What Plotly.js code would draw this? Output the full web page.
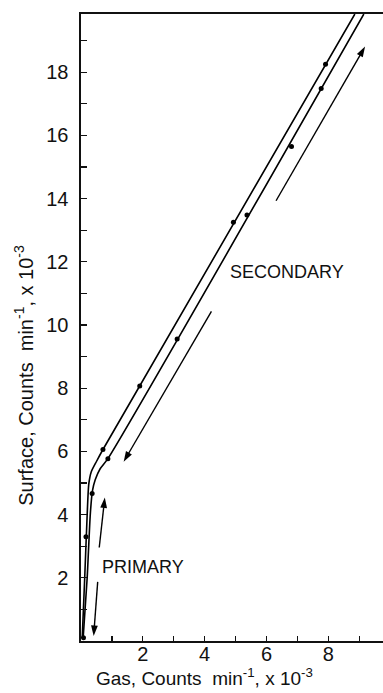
<!DOCTYPE html>
<html>
<head>
<meta charset="utf-8">
<script src="https://cdn.plot.ly/plotly-3.0.1.min.js"></script>
<style>html,body{margin:0;padding:0;background:#fff;}#chart{width:383px;height:693px;}</style>
</head>
<body>
<div id="chart"></div>
<script>
// Curve through upper branch (vertices)
const curveAx = [0.04, 0.12, 0.20, 0.25, 0.33, 0.50, 0.71, 8.86];
const curveAy = [0.10, 2.00, 4.00, 4.95, 5.35, 5.68, 6.06, 19.84];
// Curve through lower branch
const curveBx = [0.07, 0.20, 0.30, 0.37, 0.46, 0.62, 0.87, 9.15];
const curveBy = [0.10, 2.00, 4.00, 4.75, 5.10, 5.45, 5.77, 19.84];
// Measured points
const pointsAx = [0.08, 0.16, 0.71, 1.90, 4.93, 7.91];
const pointsAy = [0.10, 3.30, 6.06, 8.07, 13.25, 18.25];
const pointsBx = [0.36, 0.87, 3.11, 5.37, 6.81, 7.77];
const pointsBy = [4.67, 5.77, 9.56, 13.48, 15.65, 17.48];
// Direction arrows: tail -> head
const arrowTailX = [6.31, 4.22, 0.59, 0.54];
const arrowTailY = [13.93, 10.43, 2.96, 1.87];
const arrowHeadX = [9.19, 1.38, 0.77, 0.41];
const arrowHeadY = [18.81, 5.67, 4.54, 0.16];
// Labels
const labelText = ["SECONDARY", "PRIMARY"];
const labelX = [6.68, 1.99];
const labelY = [11.69, 2.35];
const xTickVals = [2, 4, 6, 8];
const yTickVals = [2, 4, 6, 8, 10, 12, 14, 16, 18];

const FONT = "Liberation Sans, Arial, sans-serif";
const traces = [
  {x: curveAx, y: curveAy, mode: 'lines', line: {color: '#000', width: 1.6, shape: 'spline', smoothing: 0.6}, hoverinfo: 'skip'},
  {x: curveBx, y: curveBy, mode: 'lines', line: {color: '#000', width: 1.6, shape: 'spline', smoothing: 0.6}, hoverinfo: 'skip'},
  {x: pointsAx, y: pointsAy, mode: 'markers', marker: {color: '#000', size: 5}},
  {x: pointsBx, y: pointsBy, mode: 'markers', marker: {color: '#000', size: 5}}
];
for (let i = 0; i < arrowTailX.length; i++) {
  traces.push({x: [arrowTailX[i], arrowHeadX[i]], y: [arrowTailY[i], arrowHeadY[i]], mode: 'lines+markers',
    line: {color: '#000', width: 1.4},
    marker: {symbol: 'arrow', size: [0, 11], angleref: 'previous', color: '#000', opacity: 1, line: {width: 0}}, hoverinfo: 'skip'});
}

const annotations = [];
for (let i = 0; i < labelText.length; i++) {
  annotations.push({x: labelX[i], y: labelY[i], xref: 'x', yref: 'y', text: labelText[i], showarrow: false,
    font: {family: FONT, size: 18, color: '#111'}});
}
annotations.push({x: 0.41, y: -0.058, xref: 'paper', yref: 'paper', xanchor: 'center', yanchor: 'middle',
  text: 'Gas, Counts  min<sup>-1</sup>, x 10<sup>-3</sup>', showarrow: false, font: {family: FONT, size: 19, color: '#111'}});
annotations.push({x: -0.19, y: 0.424, xref: 'paper', yref: 'paper', xanchor: 'center', yanchor: 'middle', textangle: -90,
  text: 'Surface, Counts  min<sup>-1</sup>, x 10<sup>-3</sup>', showarrow: false, font: {family: FONT, size: 20, color: '#111'}});

const layout = {
  width: 383, height: 693,
  margin: {l: 81, r: 0, t: 14, b: 52},
  paper_bgcolor: '#fff', plot_bgcolor: '#fff',
  showlegend: false,
  font: {family: FONT, color: '#111'},
  xaxis: {range: [0, 9.77], showgrid: false, zeroline: false, showline: true, linecolor: '#111', linewidth: 1.6,
    mirror: true, tickvals: xTickVals, ticktext: xTickVals.map(String), ticks: 'inside', ticklen: 5, tickwidth: 1.2, tickcolor: '#111',
    minor: {dtick: 1, tick0: 0, ticks: 'inside', ticklen: 5, tickwidth: 1.2, tickcolor: '#111'},
    tickfont: {family: FONT, size: 20, color: '#111'}, ticklabelstandoff: -6, fixedrange: true},
  yaxis: {range: [0, 19.84], showgrid: false, zeroline: false, showline: true, linecolor: '#111', linewidth: 1.6,
    tickvals: yTickVals, ticktext: yTickVals.map(String), ticks: 'inside', ticklen: 6, tickwidth: 1.2, tickcolor: '#111',
    minor: {dtick: 1, tick0: 0, ticks: 'inside', ticklen: 6, tickwidth: 1.2, tickcolor: '#111'},
    tickfont: {family: FONT, size: 20, color: '#111'}, ticklabelstandoff: 7, fixedrange: true},
  annotations: annotations
};
Plotly.newPlot('chart', traces, layout, {displayModeBar: false, staticPlot: true});
</script>
</body>
</html>
